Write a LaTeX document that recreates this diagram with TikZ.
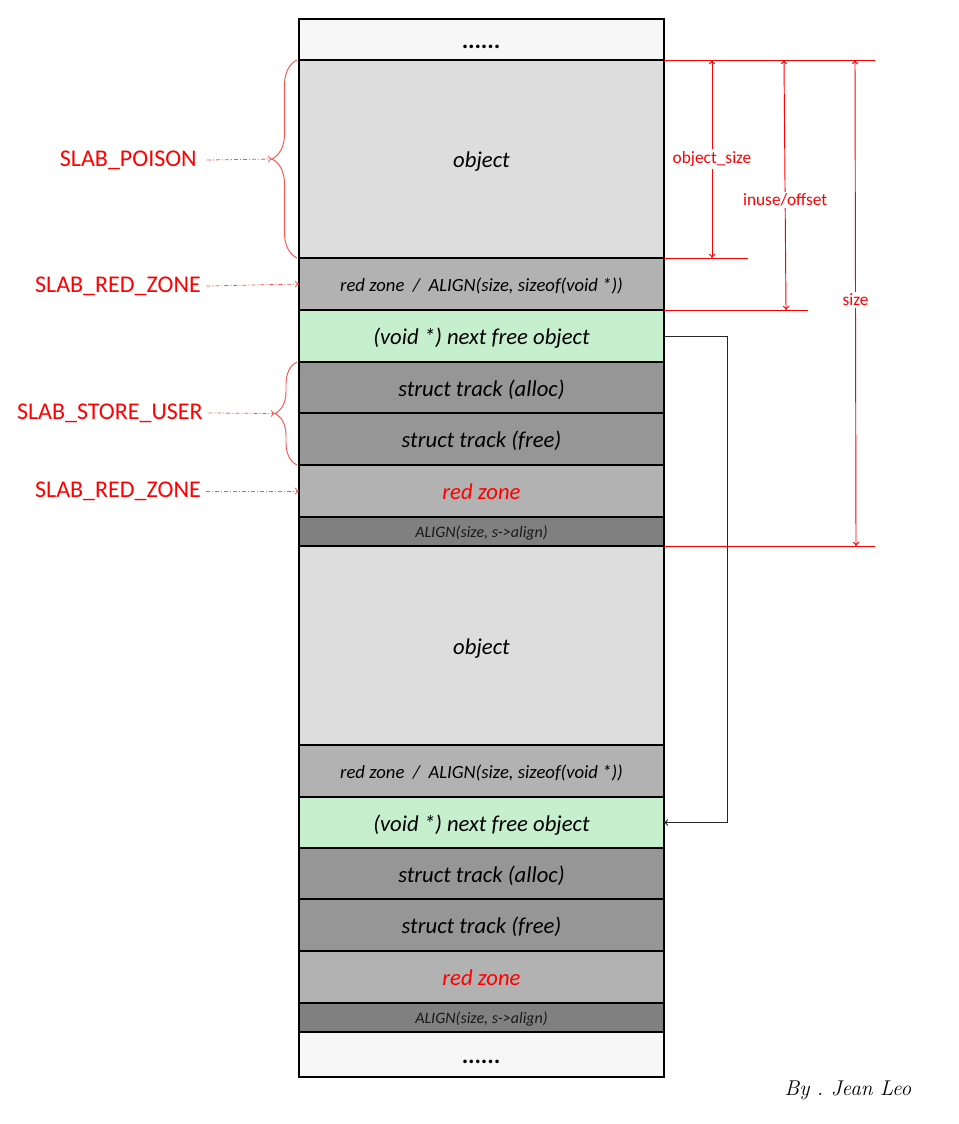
\documentclass[tikz,border=0pt]{standalone}
\usepackage{fontspec}
\newfontfamily\calib{Carlito}
\usetikzlibrary{arrows.meta,decorations.pathreplacing}
\definecolor{cDots}{HTML}{F7F7F7}
\definecolor{cObj}{HTML}{DDDDDD}
\definecolor{cRz}{HTML}{B2B2B2}
\definecolor{cFree}{HTML}{C6EFCE}
\definecolor{cTrack}{HTML}{969696}
\definecolor{cAlign}{HTML}{808080}
\definecolor{cRed}{HTML}{FF0000}
\definecolor{cRedL}{HTML}{FF5050}
\begin{document}
\begin{tikzpicture}[x=0.75pt,y=-0.75pt,
  cell/.style={draw=black, line width=0.8pt, minimum width=273.75pt, inner sep=0pt, outer sep=0pt,
    text height=13.4pt, text depth=0pt,
    font=\calib\itshape\fontsize{17}{20}\selectfont},
  smallcell/.style={cell, text height=11pt, font=\calib\itshape\fontsize{14}{17}\selectfont},
  tinycell/.style={cell, text height=9.5pt, font=\calib\itshape\fontsize{12}{14}\selectfont, text=black!90},
  dotcell/.style={cell, font=\calib\bfseries\itshape\fontsize{18}{20}\selectfont},
  slab/.style={font=\calib\fontsize{18}{21}\selectfont, text=cRed, inner sep=0pt, anchor=east},
  slabarr/.style={draw=cRedL, line width=0.6pt, dash pattern=on 3pt off 1.5pt on 0.75pt off 1.5pt, -{To[length=3pt,width=5pt]}},
  bracestyle/.style={draw=cRedL, line width=0.7pt, decorate},
  dimline/.style={draw=cRed, line width=0.7pt},
  dimarrow/.style={draw=cRed, line width=0.7pt, {To[length=3pt,width=4.5pt]}-{To[length=3pt,width=4.5pt]}},
  dimlbl/.style={font=\calib\fontsize{13}{15}\selectfont, text=cRed, fill=white, inner sep=1.5pt},
  ptr/.style={draw=black!85, line width=0.7pt, -{To[length=3pt,width=5pt]}}
]
\useasboundingbox (0,0) rectangle (959,1124);

% memory layout cells
\node[dotcell, fill=cDots, minimum height=41*0.75pt] (r1) at (481.5,39.5) {......};
\node[cell, fill=cObj, minimum height=198*0.75pt] (r2) at (481.5,159) {object};
\node[smallcell, fill=cRz, minimum height=52*0.75pt] (r3) at (481.5,284) {red zone~~/~~ALIGN(size, sizeof(void *))};
\node[cell, fill=cFree, minimum height=52*0.75pt] (r4) at (481.5,336) {(void *) next free object};
\node[cell, fill=cTrack, minimum height=51*0.75pt] (r5) at (481.5,387.5) {struct track (alloc)};
\node[cell, fill=cTrack, minimum height=52*0.75pt] (r6) at (481.5,439) {struct track (free)};
\node[cell, fill=cRz, minimum height=52*0.75pt, text=cRed] (r7) at (481.5,491) {red zone};
\node[tinycell, fill=cAlign, minimum height=29*0.75pt] (r8) at (481.5,531.5) {ALIGN(size, s->align)};
\node[cell, fill=cObj, minimum height=199*0.75pt] (r9) at (481.5,645.5) {object};
\node[smallcell, fill=cRz, minimum height=52*0.75pt] (r10) at (481.5,771) {red zone~~/~~ALIGN(size, sizeof(void *))};
\node[cell, fill=cFree, minimum height=51*0.75pt] (r11) at (481.5,822.5) {(void *) next free object};
\node[cell, fill=cTrack, minimum height=51*0.75pt] (r12) at (481.5,873.5) {struct track (alloc)};
\node[cell, fill=cTrack, minimum height=52*0.75pt] (r13) at (481.5,925) {struct track (free)};
\node[cell, fill=cRz, minimum height=52*0.75pt, text=cRed] (r14) at (481.5,977) {red zone};
\node[tinycell, fill=cAlign, minimum height=29*0.75pt] (r15) at (481.5,1017.5) {ALIGN(size, s->align)};
\node[dotcell, fill=cDots, minimum height=45*0.75pt] (r16) at (481.5,1054.5) {......};

% next free pointer
\coordinate (pc) at (727,336);
\draw[ptr] (r4.east) -- (pc) |- (r11.east);

% dimension extension lines
\coordinate (e1) at (875,60);
\coordinate (e2) at (748,258);
\coordinate (e3) at (808,310);
\coordinate (e4) at (875,546);
\draw[dimline] (r2.north east) -- (e1);
\draw[dimline] (r2.south east) -- (e2);
\draw[dimline] (r3.south east) -- (e3);
\draw[dimline] (r8.south east) -- (e4);

% dimension arrows
\coordinate (os1) at (712,60);  \coordinate (os2) at (712,258);
\coordinate (io1) at (784,60);  \coordinate (io2) at (786,310);
\coordinate (sz1) at (855,60);  \coordinate (sz2) at (856,546);
\draw[dimarrow] (os1) -- (os2) node[dimlbl, pos=0.5] (oslbl) {object\_size};
\draw[dimarrow] (io1) -- (io2) node[dimlbl, pos=0.56] (iolbl) {inuse/offset};
\draw[dimarrow] (sz1) -- (sz2) node[dimlbl, pos=0.494] (szlbl) {size};

% left braces
\draw[bracestyle, decoration={brace, amplitude=18.75pt, aspect=0.5, raise=1.5pt}] (r2.south west) -- (r2.north west);
\draw[bracestyle, decoration={brace, amplitude=16.5pt, aspect=0.5, raise=1.5pt}] (r6.south west) -- (r5.north west);
\coordinate (bt1) at (272,159);
\coordinate (bt2) at (275,413.5);

% left labels
\node[slab] (sp) at (197,160) {SLAB\_POISON};
\node[slab] (rz1) at (201,286) {SLAB\_RED\_ZONE};
\node[slab] (su) at (203,413) {SLAB\_STORE\_USER};
\node[slab] (rz2) at (201,491) {SLAB\_RED\_ZONE};
\draw[slabarr] ([xshift=7.5pt]sp.east) -- (bt1);
\draw[slabarr] ([xshift=4pt]rz1.east) -- (r3.west);
\draw[slabarr] ([xshift=4pt]su.east) -- (bt2);
\draw[slabarr] ([xshift=4pt]rz2.east) -- (r7.west);

% signature
\node[font=\itshape\fontsize{16}{18}\selectfont] (sig) at (848,1090) {By .\ Jean Leo};
\end{tikzpicture}
\end{document}
